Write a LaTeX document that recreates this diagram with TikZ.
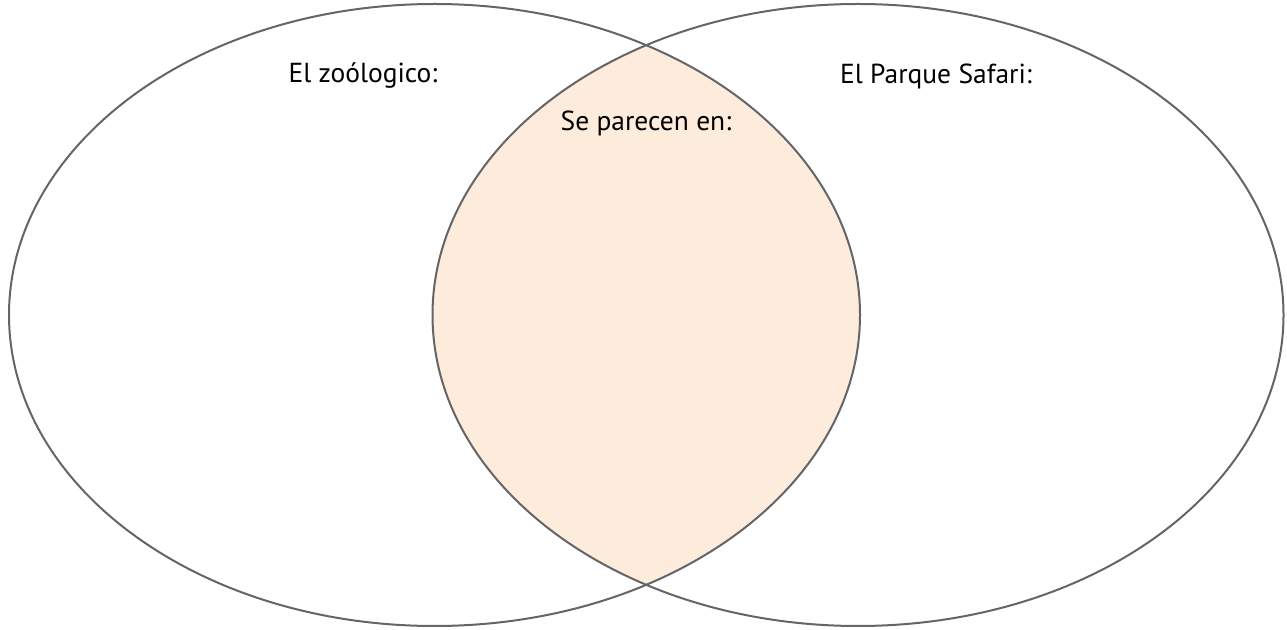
\documentclass[tikz,border=0pt]{standalone}
\usepackage{fontspec}
\setmainfont{PT Sans}
\definecolor{vennline}{HTML}{656567}
\definecolor{vennfill}{HTML}{FDEBDB}

\begin{document}
\begin{tikzpicture}[x=1pt,y=1pt,
  set/.style={draw=vennline,line width=2pt},
  settitle/.style={font=\fontsize{27.5}{32}\selectfont,text=black}]
\useasboundingbox (0,0) rectangle (1287,629);
% shared part
\begin{scope}
  \clip (434.5,314) ellipse [x radius=425.5, y radius=311];
  \fill[vennfill] (858,314) ellipse [x radius=425.5, y radius=311];
\end{scope}
\draw[set] (434.5,314) ellipse [x radius=425.5, y radius=311];
\draw[set] (858,314) ellipse [x radius=425.5, y radius=311];
% titles
\node [settitle] (zoo) at (363,553) {El zoólogico:};
\node [settitle] (safari) at (936,553) {El Parque Safari:};
\node [settitle] (shared) at (646,506) {Se parecen en:};
\end{tikzpicture}
\end{document}
